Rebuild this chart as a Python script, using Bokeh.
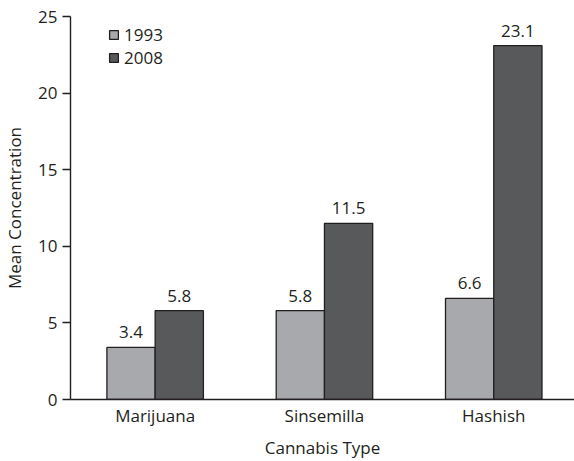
from bokeh.plotting import figure
from bokeh.models import ColumnDataSource, Range1d, Legend, LegendItem, FixedTicker, LabelSet
from bokeh.core.properties import value
from bokeh.embed import file_html
from bokeh.resources import INLINE

categories = ["Marijuana", "Sinsemilla", "Hashish"]
years = ["1993", "2008"]
values_1993 = [3.4, 5.8, 6.6]
values_2008 = [5.8, 11.5, 23.1]
y_ticks = [0, 5, 10, 15, 20, 25]

FONT = "Open Sans"
FS = "17px"
TXT = "#231f20"
LIGHT = "#a7a9ac"
DARK = "#58595b"
EDGE = "#231f20"
BW = 0.285

xs = list(range(len(categories)))
src93 = ColumnDataSource(dict(x=[i - BW / 2 for i in xs], top=values_1993,
                              lab=[f"{v:.1f}" for v in values_1993]))
src08 = ColumnDataSource(dict(x=[i + BW / 2 for i in xs], top=values_2008,
                              lab=[f"{v:.1f}" for v in values_2008]))

p = figure(width=574, height=461, output_backend="svg", toolbar_location=None,
           x_range=Range1d(-0.5, 2.477), y_range=Range1d(0, 25),
           min_border_left=70, min_border_right=0, min_border_top=16, min_border_bottom=61)
p.outline_line_color = None
p.xgrid.grid_line_color = None
p.ygrid.grid_line_color = None
p.background_fill_color = "white"
p.border_fill_color = "white"

r93 = p.vbar(x="x", top="top", width=BW, source=src93, fill_color=LIGHT,
             line_color=EDGE, line_width=1.3)
r08 = p.vbar(x="x", top="top", width=BW, source=src08, fill_color=DARK,
             line_color=EDGE, line_width=1.3)

for s in (src93, src08):
    p.add_layout(LabelSet(x="x", y="top", text="lab", source=s, text_align="center",
                          text_baseline="bottom", y_offset=9, text_font=value(FONT),
                          text_font_size=value(FS), text_color=TXT))

# axes
p.xaxis.ticker = FixedTicker(ticks=xs)
p.xaxis.major_label_overrides = {i: c for i, c in enumerate(categories)}
p.xaxis.major_tick_line_color = None
p.xaxis.major_tick_in = 0
p.xaxis.major_tick_out = 0
p.xaxis.minor_tick_line_color = None
p.xaxis.axis_line_color = TXT
p.xaxis.axis_line_width = 1.4
p.xaxis.major_label_standoff = 4
p.xaxis.axis_label = "Cannabis Type"
p.xaxis.axis_label_standoff = 6

p.yaxis.ticker = FixedTicker(ticks=y_ticks)
p.yaxis.minor_tick_line_color = None
p.yaxis.major_tick_in = 0
p.yaxis.major_tick_out = 8
p.yaxis.major_tick_line_color = TXT
p.yaxis.major_tick_line_width = 1.4
p.yaxis.axis_line_color = TXT
p.yaxis.axis_line_width = 1.4
p.yaxis.major_label_standoff = 5
p.yaxis.axis_label = "Mean Concentration"
p.yaxis.axis_label_standoff = 9

for ax in (p.xaxis[0], p.yaxis[0]):
    ax.major_label_text_font = FONT
    ax.major_label_text_font_size = FS
    ax.major_label_text_color = TXT
    ax.axis_label_text_font = FONT
    ax.axis_label_text_font_size = FS
    ax.axis_label_text_font_style = "normal"
    ax.axis_label_text_color = TXT

legend = Legend(items=[LegendItem(label=years[0], renderers=[r93]),
                       LegendItem(label=years[1], renderers=[r08])],
                location=(38, 330), padding=0, margin=0, spacing=0,
                glyph_width=11, glyph_height=11, label_height=22,
                label_standoff=5, label_text_font=FONT, label_text_font_size=FS,
                label_text_color=TXT, border_line_alpha=0,
                background_fill_alpha=0)
p.add_layout(legend)

open("out.html", "w").write(file_html(p, INLINE))
